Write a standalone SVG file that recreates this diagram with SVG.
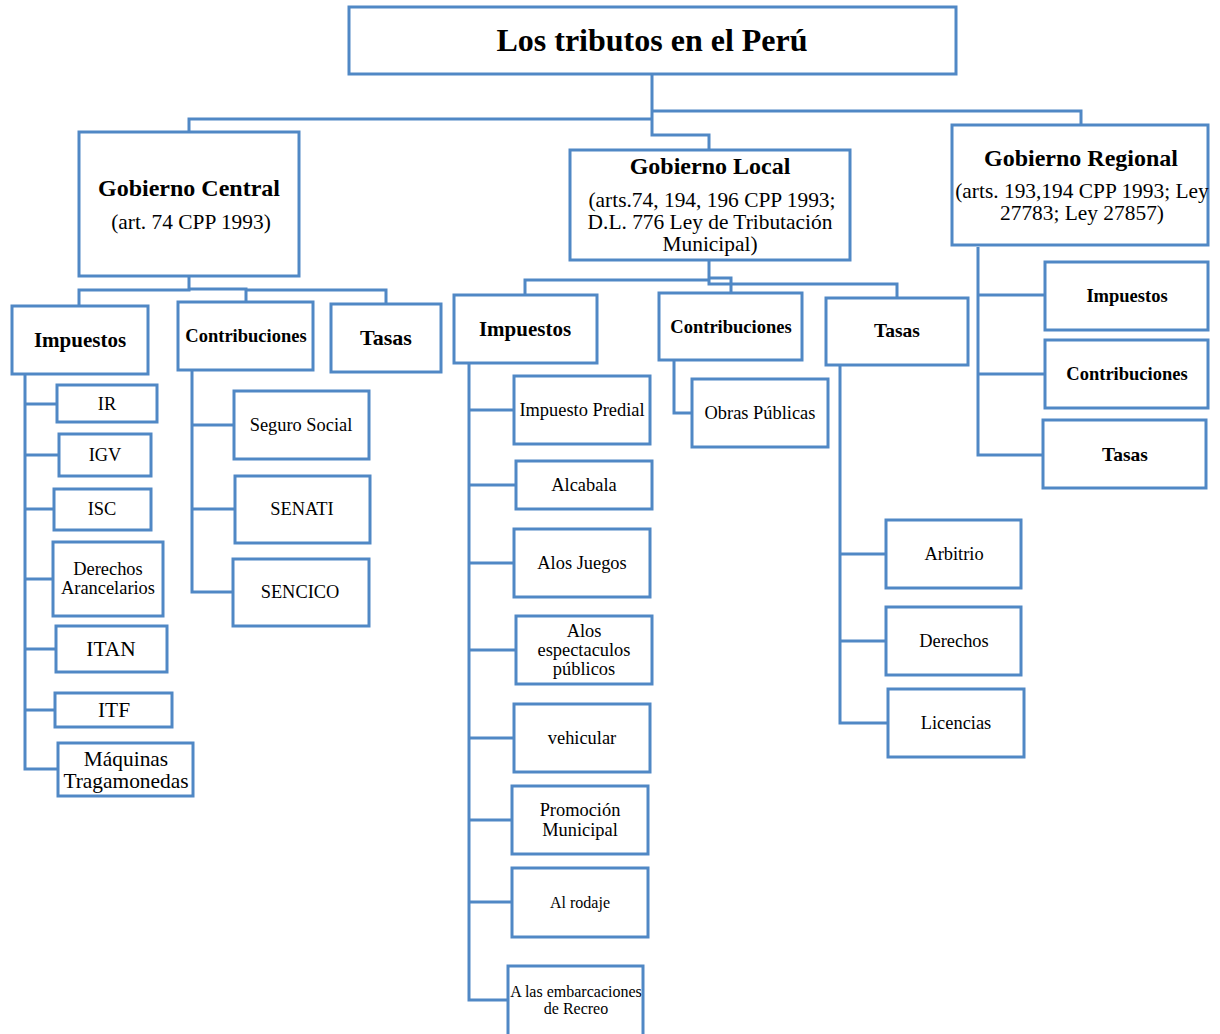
<svg xmlns="http://www.w3.org/2000/svg" width="1220" height="1034" viewBox="0 0 1220 1034">
<style>
.b{fill:#fff;stroke:#5088C5;stroke-width:3}
.c{fill:none;stroke:#5088C5;stroke-width:3}
text{font-family:"Liberation Serif","Times New Roman",serif;fill:#000;text-anchor:middle}
.t{font-size:32px;font-weight:bold}
.h{font-size:24px;font-weight:bold}
.s{font-size:21.4px}
.m{font-size:21px;font-weight:bold}
.q{font-size:22px;font-weight:bold}
.n{font-size:18.5px;font-weight:bold}
.r{font-size:19.5px;font-weight:bold}
.l{font-size:18.4px}
.g{font-size:21.4px}
.x{font-size:16px}
</style>
<rect width="1220" height="1034" fill="#fff"/>
<g id="connectors">
<path class="c" d="M652 74V135H709V150"/>
<path class="c" d="M652 111H1081V125"/>
<path class="c" d="M652 119H189V132"/>
<path class="c" d="M189 276V290H79V306"/>
<path class="c" d="M189 289H246V302"/>
<path class="c" d="M246 290H386V304"/>
<path class="c" d="M709 260V284H897V298"/>
<path class="c" d="M709 280H525V295"/>
<path class="c" d="M709 278H731V293"/>
<path class="c" d="M978 247V455H1043"/>
<path class="c" d="M978 295H1045M978 374H1045"/>
<path class="c" d="M25 374V769H58M25 404H57M25 455H59M25 509H54M25 579H53M25 649H56M25 710H55"/>
<path class="c" d="M192 370V592H233M192 425H234M192 509H235"/>
<path class="c" d="M469 363V1000H508M469 410H514M469 485H516M469 563H514M469 650H516M469 738H514M469 820H512M469 902H512"/>
<path class="c" d="M674 361V413H692"/>
<path class="c" d="M840 366V723H888M840 554H886M840 641H886"/>
</g>
<g id="title"><rect class="b" x="349" y="7" width="607" height="67"/><text class="t" x="652" y="51">Los tributos en el Perú</text></g>
<g id="central"><rect class="b" x="79" y="132" width="220" height="144"/><text class="h" x="189" y="196">Gobierno Central</text><text class="s" x="191" y="229">(art. 74 CPP 1993)</text></g>
<g id="local"><rect class="b" x="570" y="150" width="280" height="110"/><text class="h" x="710" y="174">Gobierno Local</text><text class="s" x="712" y="207">(arts.74, 194, 196 CPP 1993;</text><text class="s" x="710" y="229">D.L. 776 Ley de Tributación</text><text class="s" x="710" y="251">Municipal)</text></g>
<g id="regional"><rect class="b" x="952" y="125" width="256" height="120"/><text class="h" x="1081" y="166">Gobierno Regional</text><text class="s" x="1082" y="198">(arts. 193,194 CPP 1993; Ley</text><text class="s" x="1082" y="220">27783; Ley 27857)</text></g>
<g id="c-impuestos"><rect class="b" x="12" y="306" width="136" height="68"/><text class="m" x="80" y="347">Impuestos</text></g>
<g id="c-contribuciones"><rect class="b" x="178" y="302" width="135" height="68"/><text class="n" x="246" y="342">Contribuciones</text></g>
<g id="c-tasas"><rect class="b" x="331" y="304" width="110" height="68"/><text class="q" x="386" y="345">Tasas</text></g>
<g id="l-impuestos"><rect class="b" x="454" y="295" width="143" height="68"/><text class="m" x="525" y="336">Impuestos</text></g>
<g id="l-contribuciones"><rect class="b" x="659" y="293" width="143" height="67"/><text class="n" x="731" y="333">Contribuciones</text></g>
<g id="l-tasas"><rect class="b" x="826" y="298" width="142" height="67"/><text class="r" x="897" y="337">Tasas</text></g>
<g id="r-impuestos"><rect class="b" x="1045" y="262" width="163" height="68"/><text class="n" x="1127" y="302">Impuestos</text></g>
<g id="r-contribuciones"><rect class="b" x="1045" y="340" width="163" height="68"/><text class="n" x="1127" y="380">Contribuciones</text></g>
<g id="r-tasas"><rect class="b" x="1043" y="420" width="163" height="68"/><text class="r" x="1125" y="461">Tasas</text></g>
<g id="ir"><rect class="b" x="57" y="385" width="100" height="37"/><text class="l" x="107" y="410">IR</text></g>
<g id="igv"><rect class="b" x="59" y="434" width="92" height="42"/><text class="l" x="105" y="461">IGV</text></g>
<g id="isc"><rect class="b" x="54" y="489" width="97" height="41"/><text class="l" x="102" y="515">ISC</text></g>
<g id="derechos-arancelarios"><rect class="b" x="53" y="542" width="110" height="74"/><text class="l" x="108" y="575">Derechos</text><text class="l" x="108" y="594">Arancelarios</text></g>
<g id="itan"><rect class="b" x="56" y="626" width="111" height="46"/><text class="g" x="111" y="656">ITAN</text></g>
<g id="itf"><rect class="b" x="55" y="693" width="117" height="34"/><text class="g" x="114" y="717">ITF</text></g>
<g id="maquinas"><rect class="b" x="58" y="743" width="135" height="53"/><text class="g" x="126" y="766">Máquinas</text><text class="g" x="126" y="788">Tragamonedas</text></g>
<g id="seguro-social"><rect class="b" x="234" y="391" width="135" height="68"/><text class="l" x="301" y="431">Seguro Social</text></g>
<g id="senati"><rect class="b" x="235" y="476" width="135" height="67"/><text class="l" x="302" y="515">SENATI</text></g>
<g id="sencico"><rect class="b" x="233" y="559" width="136" height="67"/><text class="l" x="300" y="598">SENCICO</text></g>
<g id="impuesto-predial"><rect class="b" x="514" y="376" width="136" height="68"/><text class="l" x="582" y="416">Impuesto Predial</text></g>
<g id="alcabala"><rect class="b" x="516" y="461" width="136" height="48"/><text class="l" x="584" y="491">Alcabala</text></g>
<g id="alos-juegos"><rect class="b" x="514" y="529" width="136" height="68"/><text class="l" x="582" y="569">Alos Juegos</text></g>
<g id="alos-espectaculos"><rect class="b" x="516" y="616" width="136" height="68"/><text class="l" x="584" y="637">Alos</text><text class="l" x="584" y="656">espectaculos</text><text class="l" x="584" y="675">públicos</text></g>
<g id="vehicular"><rect class="b" x="514" y="704" width="136" height="68"/><text class="l" x="582" y="744">vehicular</text></g>
<g id="promocion-municipal"><rect class="b" x="512" y="786" width="136" height="68"/><text class="l" x="580" y="816">Promoción</text><text class="l" x="580" y="836">Municipal</text></g>
<g id="al-rodaje"><rect class="b" x="512" y="868" width="136" height="69"/><text class="x" x="580" y="908">Al rodaje</text></g>
<g id="embarcaciones"><rect class="b" x="508" y="966" width="135" height="70"/><text class="x" x="576" y="997">A las embarcaciones</text><text class="x" x="576" y="1014">de Recreo</text></g>
<g id="obras-publicas"><rect class="b" x="692" y="379" width="136" height="68"/><text class="l" x="760" y="419">Obras Públicas</text></g>
<g id="arbitrio"><rect class="b" x="886" y="520" width="135" height="68"/><text class="l" x="954" y="560">Arbitrio</text></g>
<g id="derechos"><rect class="b" x="886" y="607" width="135" height="68"/><text class="l" x="954" y="647">Derechos</text></g>
<g id="licencias"><rect class="b" x="888" y="689" width="136" height="68"/><text class="l" x="956" y="729">Licencias</text></g>
</svg>
